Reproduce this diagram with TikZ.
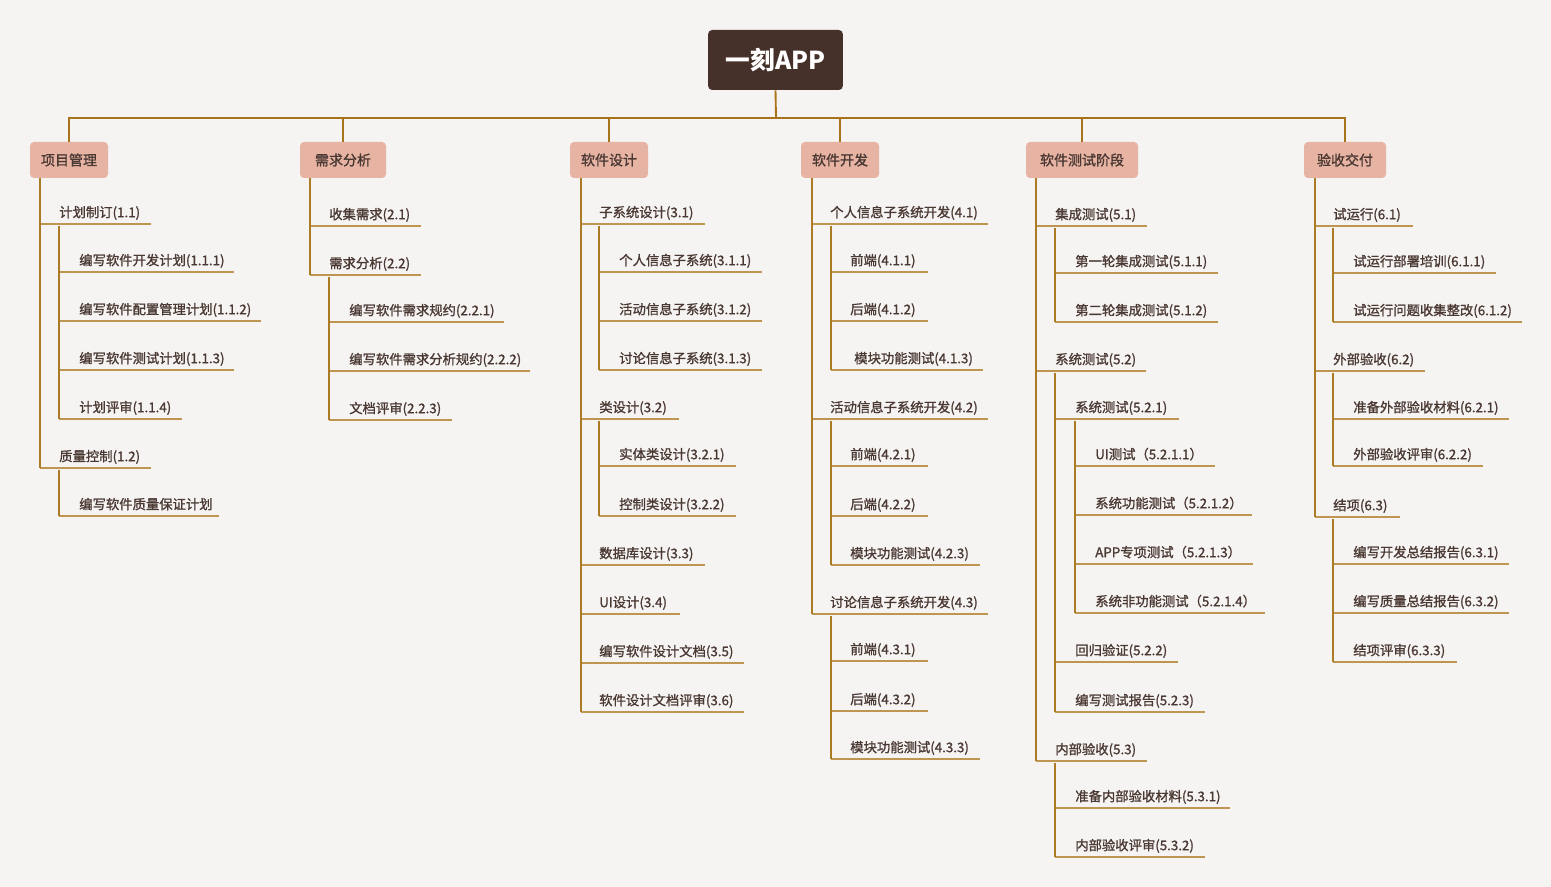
\documentclass[tikz,border=0pt]{standalone}
\usepackage{fontspec}
\setmainfont{Noto Sans CJK SC}
\newfontfamily\medfont{Noto Sans CJK SC}[FakeBold=1.2]
\definecolor{bg}{HTML}{F6F4F2}
\definecolor{rootfill}{HTML}{45312A}
\definecolor{topfill}{HTML}{E7B3A3}
\definecolor{txt}{HTML}{4A3833}
\definecolor{trunkc}{HTML}{A8731A}
\definecolor{vc}{HTML}{AC7B25}
\definecolor{uc}{HTML}{BF9552}
\tikzset{
  rootbox/.style={fill=rootfill, rounded corners=3pt, text=white, font=\fontsize{18.5}{22}\selectfont\bfseries,
    minimum width=101pt, minimum height=45pt, inner sep=0pt},
  topbox/.style={fill=topfill, rounded corners=3pt, text=txt, font=\medfont\fontsize{10.5}{13}\selectfont,
    minimum height=27pt, inner xsep=0pt, inner ysep=0pt},
  itm/.style={text=txt, font=\medfont\fontsize{10}{12}\selectfont, inner xsep=0pt, inner ysep=4.9pt,
    text height=9pt, text depth=0pt, align=left, anchor=south west},
  trunk/.style={draw=trunkc, line width=1.4pt},
  vline/.style={draw=vc, line width=0.8pt},
  uline/.style={draw=uc, line width=0.9pt},
}
\newcommand\Item[6]{%
  \pgfmathsetmacro\itw{(#4-#2)*0.75}%
  \node[itm, text width=\itw pt] (#1) at (#2,#3) {\mbox{#6}};
  \draw[uline] (#5 |- #1.south) -- (#1.south east);
}
\begin{document}
\begin{tikzpicture}[x=0.75pt,y=-0.75pt]
\fill[bg] (0,0) rectangle (1551,887);
\useasboundingbox (0,0) rectangle (1551,887);

% root and top level
\node[rootbox] (root) at (775.5,60) {一刻APP};
\node[topbox, minimum width=58.5pt] (b1) at (69,160) {项目管理};
\node[topbox, minimum width=64.5pt] (b2) at (343,160) {需求分析};
\node[topbox, minimum width=58.5pt] (b3) at (609,160) {软件设计};
\node[topbox, minimum width=58.5pt] (b4) at (840,160) {软件开发};
\node[topbox, minimum width=84pt] (b5) at (1082,160) {软件测试阶段};
\node[topbox, minimum width=61.5pt] (b6) at (1345,160) {验收交付};
\coordinate (bus) at (776,118);
\draw[trunk] (root.south) -- (bus);
\draw[trunk] (b1.north) -- (b1.north |- bus) -- (b6.north |- bus) -- (b6.north);
\draw[trunk] (b2.north) -- (b2.north |- bus);
\draw[trunk] (b3.north) -- (b3.north |- bus);
\draw[trunk] (b4.north) -- (b4.north |- bus);
\draw[trunk] (b5.north) -- (b5.north |- bus);

% column 1
\coordinate (v1) at (40,179);
\coordinate (v11) at (59,226);
\coordinate (v12) at (59,470);
\Item{n11}{59}{224}{150}{v1}{计划制订(1.1)}
\Item{n111}{79}{272}{233}{v11}{编写软件开发计划(1.1.1)}
\Item{n112}{79}{321}{260}{v11}{编写软件配置管理计划(1.1.2)}
\Item{n113}{79}{370}{233}{v11}{编写软件测试计划(1.1.3)}
\Item{n114}{79}{419}{181}{v11}{计划评审(1.1.4)}
\Item{n12}{59}{468}{150}{v1}{质量控制(1.2)}
\Item{n121}{79}{516}{218}{v12}{编写软件质量保证计划}
\draw[vline] (v1 |- b1.south) -- (v1 |- n12.south);
\draw[vline] (v11) -- (v11 |- n114.south);
\draw[vline] (v12) -- (v12 |- n121.south);

% column 2
\coordinate (v2) at (310,179);
\coordinate (v22) at (329,277);
\Item{n21}{329}{226}{420}{v2}{收集需求(2.1)}
\Item{n22}{329}{275}{420}{v2}{需求分析(2.2)}
\Item{n221}{349}{322}{503}{v22}{编写软件需求规约(2.2.1)}
\Item{n222}{349}{371}{529}{v22}{编写软件需求分析规约(2.2.2)}
\Item{n223}{349}{420}{451}{v22}{文档评审(2.2.3)}
\draw[vline] (v2 |- b2.south) -- (v2 |- n22.south);
\draw[vline] (v22) -- (v22 |- n223.south);

% column 3
\coordinate (v3) at (581,179);
\coordinate (v31) at (599,226);
\coordinate (v32) at (599,421);
\Item{n31}{599}{224}{704}{v3}{子系统设计(3.1)}
\Item{n311}{619}{272}{761}{v31}{个人信息子系统(3.1.1)}
\Item{n312}{619}{321}{761}{v31}{活动信息子系统(3.1.2)}
\Item{n313}{619}{370}{761}{v31}{讨论信息子系统(3.1.3)}
\Item{n32}{599}{419}{678}{v3}{类设计(3.2)}
\Item{n321}{619}{466}{735}{v32}{实体类设计(3.2.1)}
\Item{n322}{619}{516}{735}{v32}{控制类设计(3.2.2)}
\Item{n33}{599}{565}{704}{v3}{数据库设计(3.3)}
\Item{n34}{599}{614}{679}{v3}{UI设计(3.4)}
\Item{n35}{599}{663}{743}{v3}{编写软件设计文档(3.5)}
\Item{n36}{599}{712}{743}{v3}{软件设计文档评审(3.6)}
\draw[vline] (v3 |- b3.south) -- (v3 |- n36.south);
\draw[vline] (v31) -- (v31 |- n313.south);
\draw[vline] (v32) -- (v32 |- n322.south);

% column 4
\coordinate (v4) at (812,179);
\coordinate (v41) at (831,226);
\coordinate (v42) at (831,421);
\coordinate (v43) at (831,616);
\Item{n41}{830}{224}{987}{v4}{个人信息子系统开发(4.1)}
\Item{n411}{850}{272}{927}{v41}{前端(4.1.1)}
\Item{n412}{850}{321}{927}{v41}{后端(4.1.2)}
\Item{n413}{854}{370}{982}{v41}{模块功能测试(4.1.3)}
\Item{n42}{830}{419}{987}{v4}{活动信息子系统开发(4.2)}
\Item{n421}{850}{466}{927}{v42}{前端(4.2.1)}
\Item{n422}{850}{516}{927}{v42}{后端(4.2.2)}
\Item{n423}{850}{565}{979}{v42}{模块功能测试(4.2.3)}
\Item{n43}{830}{614}{987}{v4}{讨论信息子系统开发(4.3)}
\Item{n431}{850}{661}{927}{v43}{前端(4.3.1)}
\Item{n432}{850}{711}{927}{v43}{后端(4.3.2)}
\Item{n433}{850}{759}{979}{v43}{模块功能测试(4.3.3)}
\draw[vline] (v4 |- b4.south) -- (v4 |- n43.south);
\draw[vline] (v41) -- (v41 |- n413.south);
\draw[vline] (v42) -- (v42 |- n423.south);
\draw[vline] (v43) -- (v43 |- n433.south);

% column 5
\coordinate (v5) at (1036,179);
\coordinate (v51) at (1055,228);
\coordinate (v52) at (1055,373);
\coordinate (v521) at (1075,421);
\coordinate (v53) at (1055,763);
\Item{n51}{1055}{226}{1146}{v5}{集成测试(5.1)}
\Item{n511}{1075}{273}{1217}{v51}{第一轮集成测试(5.1.1)}
\Item{n512}{1075}{322}{1217}{v51}{第二轮集成测试(5.1.2)}
\Item{n52}{1055}{371}{1145}{v5}{系统测试(5.2)}
\Item{n521}{1075}{419}{1178}{v52}{系统测试(5.2.1)}
\Item{n5211}{1095}{466}{1214}{v521}{UI测试（5.2.1.1）}
\Item{n5212}{1095}{515}{1251}{v521}{系统功能测试（5.2.1.2）}
\Item{n5213}{1095}{564}{1252}{v521}{APP专项测试（5.2.1.3）}
\Item{n5214}{1095}{613}{1264}{v521}{系统非功能测试（5.2.1.4）}
\Item{n522}{1075}{662}{1177}{v52}{回归验证(5.2.2)}
\Item{n523}{1075}{712}{1204}{v52}{编写测试报告(5.2.3)}
\Item{n53}{1055}{761}{1146}{v5}{内部验收(5.3)}
\Item{n531}{1075}{808}{1229}{v53}{准备内部验收材料(5.3.1)}
\Item{n532}{1075}{857}{1204}{v53}{内部验收评审(5.3.2)}
\draw[vline] (v5 |- b5.south) -- (v5 |- n53.south);
\draw[vline] (v51) -- (v51 |- n512.south);
\draw[vline] (v52) -- (v52 |- n523.south);
\draw[vline] (v521) -- (v521 |- n5214.south);
\draw[vline] (v53) -- (v53 |- n532.south);

% column 6
\coordinate (v6) at (1315,179);
\coordinate (v61) at (1333,228);
\coordinate (v62) at (1333,373);
\coordinate (v63) at (1333,519);
\Item{n61}{1333}{226}{1412}{v6}{试运行(6.1)}
\Item{n611}{1353}{273}{1495}{v61}{试运行部署培训(6.1.1)}
\Item{n612}{1353}{322}{1521}{v61}{试运行问题收集整改(6.1.2)}
\Item{n62}{1333}{371}{1424}{v6}{外部验收(6.2)}
\Item{n621}{1353}{419}{1508}{v62}{准备外部验收材料(6.2.1)}
\Item{n622}{1353}{466}{1482}{v62}{外部验收评审(6.2.2)}
\Item{n63}{1333}{517}{1399}{v6}{结项(6.3)}
\Item{n631}{1353}{564}{1508}{v63}{编写开发总结报告(6.3.1)}
\Item{n632}{1353}{613}{1508}{v63}{编写质量总结报告(6.3.2)}
\Item{n633}{1353}{662}{1456}{v63}{结项评审(6.3.3)}
\draw[vline] (v6 |- b6.south) -- (v6 |- n63.south);
\draw[vline] (v61) -- (v61 |- n612.south);
\draw[vline] (v62) -- (v62 |- n622.south);
\draw[vline] (v63) -- (v63 |- n633.south);
\end{tikzpicture}
\end{document}
